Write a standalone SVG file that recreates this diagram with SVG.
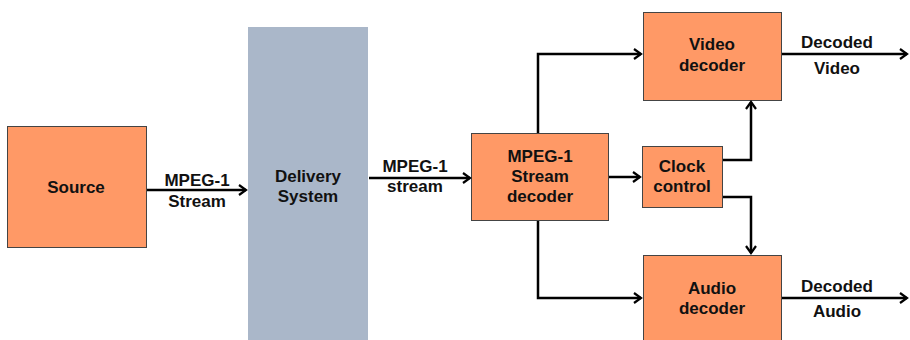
<svg xmlns="http://www.w3.org/2000/svg" width="910" height="340" viewBox="0 0 910 340">
  <style>
    .box { fill: #FF9966; stroke: #444; stroke-width: 1; }
    .sys { fill: #AAB7C9; stroke: none; }
    .t { font-family: "Liberation Sans", Arial, sans-serif; font-weight: bold; font-size: 17px; fill: #111; text-anchor: middle; }
    .w { fill: none; stroke: #000; stroke-width: 2.5; }
  </style>
  <defs>
    <marker id="arr" viewBox="0 0 12 12" refX="10" refY="6" markerWidth="12" markerHeight="12" markerUnits="userSpaceOnUse" orient="auto">
      <path d="M3,1 L10,6 L3,11" fill="none" stroke="#000" stroke-width="2.2"/>
    </marker>
  </defs>

  <rect width="910" height="340" fill="#fff"/>

  <g id="source">
    <rect class="box" x="7.5" y="126.5" width="139" height="121"/>
    <text class="t" x="76" y="193">Source</text>
  </g>

  <g id="delivery">
    <rect class="sys" x="248" y="27" width="120" height="313"/>
    <text class="t" x="308" y="182">Delivery</text>
    <text class="t" x="308" y="202">System</text>
  </g>

  <g id="stream-decoder">
    <rect class="box" x="471.5" y="133.5" width="137" height="87"/>
    <text class="t" x="540" y="162">MPEG-1</text>
    <text class="t" x="540" y="182">Stream</text>
    <text class="t" x="540" y="202">decoder</text>
  </g>

  <g id="clock">
    <rect class="box" x="642.5" y="146.5" width="80" height="61"/>
    <text class="t" x="682" y="172">Clock</text>
    <text class="t" x="682" y="192">control</text>
  </g>

  <g id="video-decoder">
    <rect class="box" x="643.5" y="12.5" width="138" height="88"/>
    <text class="t" x="712" y="50">Video</text>
    <text class="t" x="712" y="71">decoder</text>
  </g>

  <g id="audio-decoder">
    <rect class="box" x="643.5" y="255.5" width="138" height="90"/>
    <text class="t" x="712" y="294">Audio</text>
    <text class="t" x="712" y="314">decoder</text>
  </g>

  <g id="connectors">
    <line class="w" x1="147" y1="190" x2="246" y2="190" marker-end="url(#arr)"/>
    <line class="w" x1="369" y1="178" x2="470" y2="178" marker-end="url(#arr)"/>
    <polyline class="w" points="538,133 538,54 641,54" marker-end="url(#arr)"/>
    <polyline class="w" points="538,221 538,298 641,298" marker-end="url(#arr)"/>
    <line class="w" x1="609" y1="177" x2="640" y2="177" marker-end="url(#arr)"/>
    <polyline class="w" points="723,160 751,160 751,102" marker-end="url(#arr)"/>
    <polyline class="w" points="723,197 751,197 751,253" marker-end="url(#arr)"/>
    <line class="w" x1="782" y1="54" x2="907" y2="54" marker-end="url(#arr)"/>
    <line class="w" x1="782" y1="298" x2="907" y2="298" marker-end="url(#arr)"/>
  </g>

  <g id="labels">
    <text class="t" x="197" y="186">MPEG-1</text>
    <text class="t" x="197" y="207">Stream</text>
    <text class="t" x="415" y="172">MPEG-1</text>
    <text class="t" x="415" y="192">stream</text>
    <text class="t" x="837" y="48">Decoded</text>
    <text class="t" x="837" y="74">Video</text>
    <text class="t" x="837" y="292">Decoded</text>
    <text class="t" x="837" y="317">Audio</text>
  </g>
</svg>
